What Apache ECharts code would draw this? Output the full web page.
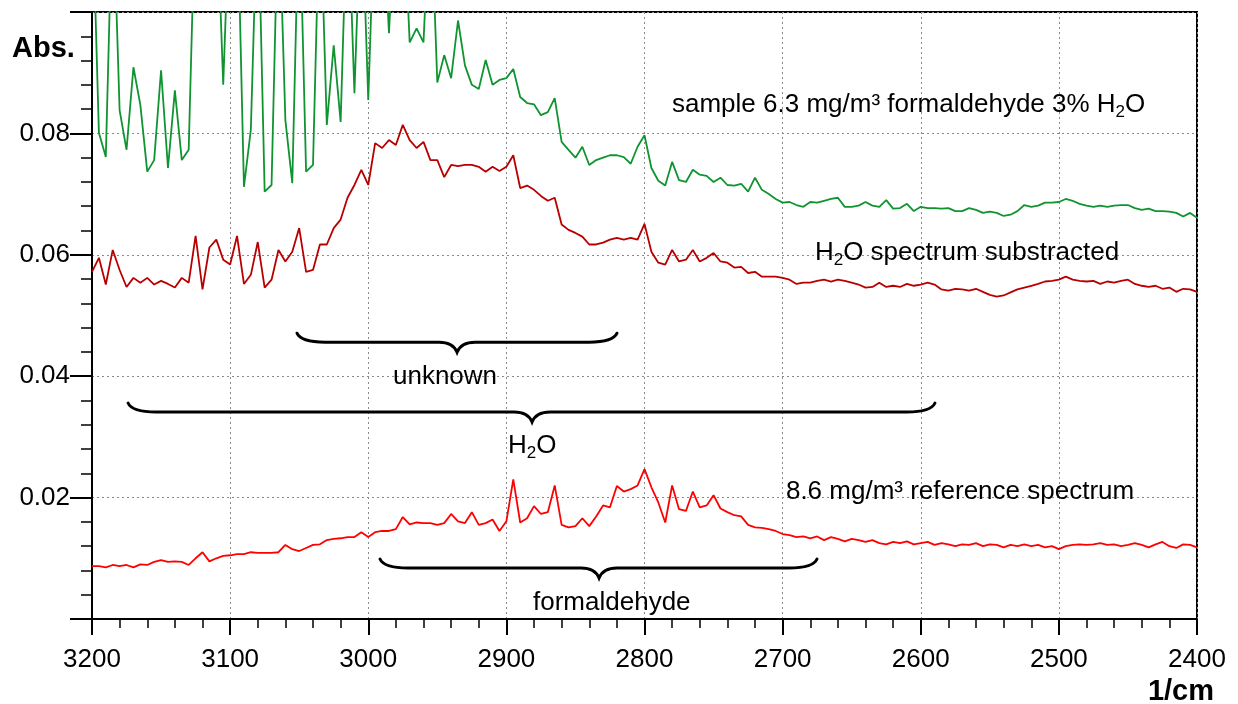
<!DOCTYPE html>
<html><head><meta charset="utf-8">
<script src="https://cdn.jsdelivr.net/npm/echarts@6/dist/echarts.min.js"></script>
<style>html,body{margin:0;padding:0;background:#fff}#c{width:1238px;height:704px}</style>
</head><body><div id="c"></div>
<script>
// wavenumbers (1/cm)
const wavenumbers = [
3200,3195,3190,3185,3180,3175,3170,3165,3160,3155,
3150,3145,3140,3135,3130,3125,3120,3115,3110,3105,
3100,3095,3090,3085,3080,3075,3070,3065,3060,3055,
3050,3045,3040,3035,3030,3025,3020,3015,3010,3005,
3000,2995,2990,2985,2980,2975,2970,2965,2960,2955,
2950,2945,2940,2935,2930,2925,2920,2915,2910,2905,
2900,2895,2890,2885,2880,2875,2870,2865,2860,2855,
2850,2845,2840,2835,2830,2825,2820,2815,2810,2805,
2800,2795,2790,2785,2780,2775,2770,2765,2760,2755,
2750,2745,2740,2735,2730,2725,2720,2715,2710,2705,
2700,2695,2690,2685,2680,2675,2670,2665,2660,2655,
2650,2645,2640,2635,2630,2625,2620,2615,2610,2605,
2600,2595,2590,2585,2580,2575,2570,2565,2560,2555,
2550,2545,2540,2535,2530,2525,2520,2515,2510,2505,
2500,2495,2490,2485,2480,2475,2470,2465,2460,2455,
2450,2445,2440,2435,2430,2425,2420,2415,2410,2405,
2400];

// sample 6.3 mg/m3 formaldehyde 3% H2O (green); values above 0.1 run off the top
const sampleAbs = [
0.12,0.0801,0.0761,0.12,0.0838,0.0773,0.0909,0.0847,0.0737,0.0756,
0.0904,0.0743,0.0871,0.0756,0.0773,0.12,0.12,0.12,0.12,0.0880,
0.12,0.12,0.0712,0.0806,0.12,0.0704,0.0715,0.12,0.0822,0.0718,
0.12,0.0737,0.0748,0.12,0.0814,0.0945,0.0819,0.12,0.0866,0.12,
0.0855,0.12,0.12,0.0965,0.12,0.12,0.0950,0.0973,0.0950,0.12,
0.0884,0.0929,0.0891,0.0986,0.0912,0.0880,0.0873,0.0921,0.0880,0.0888,
0.0891,0.0906,0.0860,0.0850,0.0848,0.0830,0.0835,0.0858,0.0786,0.0773,
0.0760,0.0778,0.0748,0.0756,0.0760,0.0764,0.0764,0.0761,0.0750,0.0778,
0.0797,0.0743,0.0722,0.0714,0.0753,0.0723,0.0720,0.0740,0.0732,0.0730,
0.0720,0.0727,0.0715,0.0714,0.0717,0.0704,0.0727,0.0707,0.0700,0.0692,
0.0686,0.0687,0.0682,0.0679,0.0687,0.0686,0.0689,0.0692,0.0694,0.0679,
0.0679,0.0681,0.0687,0.0681,0.0679,0.0690,0.0676,0.0677,0.0684,0.0672,
0.0679,0.0677,0.0677,0.0676,0.0677,0.0672,0.0672,0.0677,0.0674,0.0669,
0.0671,0.0669,0.0664,0.0666,0.0672,0.0682,0.0679,0.0681,0.0686,0.0686,
0.0687,0.0692,0.0689,0.0684,0.0681,0.0679,0.0681,0.0679,0.0681,0.0682,
0.0682,0.0677,0.0674,0.0676,0.0672,0.0672,0.0671,0.0669,0.0663,0.0669,
0.0661];

// H2O spectrum substracted (dark red)
const subtractedAbs = [
0.0572,0.0595,0.0551,0.0608,0.0575,0.0547,0.0562,0.0554,0.0562,0.0551,
0.0557,0.0552,0.0546,0.0562,0.0554,0.0631,0.0543,0.0612,0.0625,0.0592,
0.0584,0.0631,0.0552,0.0567,0.0621,0.0546,0.0559,0.0608,0.0589,0.0605,
0.0644,0.0572,0.0575,0.0617,0.0617,0.0644,0.0658,0.0694,0.0715,0.0740,
0.0715,0.0784,0.0776,0.0789,0.0781,0.0814,0.0789,0.0776,0.0786,0.0756,
0.0756,0.0728,0.0748,0.0746,0.0748,0.0748,0.0745,0.0737,0.0745,0.0738,
0.0745,0.0764,0.0710,0.0714,0.0707,0.0697,0.0689,0.0694,0.0650,0.0641,
0.0636,0.0630,0.0617,0.0617,0.0620,0.0625,0.0628,0.0625,0.0628,0.0625,
0.0651,0.0605,0.0587,0.0584,0.0608,0.0589,0.0592,0.0608,0.0589,0.0595,
0.0603,0.0589,0.0587,0.0579,0.0580,0.0570,0.0572,0.0564,0.0564,0.0564,
0.0562,0.0559,0.0552,0.0554,0.0554,0.0557,0.0559,0.0556,0.0559,0.0557,
0.0554,0.0551,0.0546,0.0547,0.0554,0.0547,0.0549,0.0547,0.0552,0.0549,
0.0551,0.0554,0.0551,0.0543,0.0541,0.0544,0.0543,0.0541,0.0544,0.0539,
0.0534,0.0531,0.0533,0.0538,0.0543,0.0546,0.0549,0.0552,0.0556,0.0557,
0.0559,0.0564,0.0559,0.0557,0.0556,0.0557,0.0552,0.0556,0.0554,0.0557,
0.0559,0.0552,0.0549,0.0547,0.0549,0.0544,0.0546,0.0539,0.0544,0.0543,
0.0539];

// 8.6 mg/m3 reference spectrum (red)
const referenceAbs = [
0.0087,0.0087,0.0085,0.0089,0.0087,0.0089,0.0085,0.0090,0.0089,0.0094,
0.0097,0.0094,0.0095,0.0094,0.0089,0.0100,0.0110,0.0095,0.0100,0.0104,
0.0105,0.0107,0.0107,0.0110,0.0109,0.0109,0.0109,0.0110,0.0122,0.0115,
0.0112,0.0117,0.0122,0.0123,0.0130,0.0132,0.0133,0.0135,0.0135,0.0143,
0.0135,0.0143,0.0145,0.0145,0.0148,0.0168,0.0156,0.0159,0.0158,0.0158,
0.0155,0.0158,0.0173,0.0161,0.0158,0.0176,0.0155,0.0158,0.0164,0.0145,
0.0161,0.0230,0.0159,0.0166,0.0186,0.0173,0.0176,0.0220,0.0155,0.0151,
0.0153,0.0166,0.0153,0.0169,0.0187,0.0184,0.0219,0.0210,0.0214,0.0220,
0.0247,0.0217,0.0192,0.0159,0.0220,0.0181,0.0178,0.0210,0.0184,0.0187,
0.0204,0.0182,0.0176,0.0171,0.0169,0.0155,0.0151,0.0150,0.0148,0.0145,
0.0140,0.0138,0.0135,0.0136,0.0133,0.0136,0.0130,0.0135,0.0132,0.0128,
0.0132,0.0130,0.0127,0.0130,0.0125,0.0123,0.0127,0.0125,0.0128,0.0123,
0.0125,0.0127,0.0122,0.0125,0.0123,0.0120,0.0123,0.0122,0.0125,0.0120,
0.0123,0.0122,0.0118,0.0122,0.0120,0.0123,0.0120,0.0122,0.0118,0.0120,
0.0115,0.0120,0.0122,0.0123,0.0122,0.0123,0.0125,0.0122,0.0123,0.0120,
0.0122,0.0125,0.0122,0.0118,0.0123,0.0127,0.0120,0.0117,0.0123,0.0122,
0.0118];

const xTickLabels = ['3200','3100','3000','2900','2800','2700','2600','2500','2400'];
const yTickLabels = ['0.02','0.04','0.06','0.08'];

// annotation braces: [from, to, tip] wavenumbers and arm level (Abs.)
const braceFrom  = [3051.6, 3173.9, 2991.5];
const braceTo    = [2819.9, 2589.7, 2675.1];
const braceTip   = [2935.7, 2881.4, 2832.9];
const braceLevel = [0.0456, 0.0341, 0.0084];

// annotation texts with anchor (left edge wavenumber, Abs.)
const noteTexts = ['sample 6.3 mg/m³ formaldehyde 3% H{sub|2}O', 'H{sub|2}O spectrum substracted', 'unknown',
                   'H{sub|2}O', '8.6 mg/m³ reference spectrum', 'formaldehyde'];
const noteW = [2780.1, 2676.6, 2982.1, 2898.8, 2697.6, 2880.7];
const noteA = [0.0847, 0.0604, 0.0399, 0.0286, 0.0210, 0.0027];

const FONT = 'Liberation Sans, Arial, Helvetica, sans-serif';
const pairs = arr => wavenumbers.map((w, i) => [w, arr[i]]);

function bracePath(x1, x2, xc, y) {
  const h1 = 9, h2 = 10, r1 = 28, r2 = 18;
  return 'M' + x1 + ',' + (y - h1) +
    ' Q' + (x1 + 4) + ',' + y + ' ' + (x1 + r1) + ',' + y +
    ' L' + (xc - r2) + ',' + y +
    ' Q' + (xc - 4) + ',' + y + ' ' + xc + ',' + (y + h2) +
    ' Q' + (xc + 4) + ',' + y + ' ' + (xc + r2) + ',' + y +
    ' L' + (x2 - r1) + ',' + y +
    ' Q' + (x2 - 4) + ',' + y + ' ' + x2 + ',' + (y - h1);
}

const richSub = {sub: {fontSize: 17, fontFamily: FONT, lineHeight: 32, verticalAlign: 'bottom', color: '#000'}};

const chart = echarts.init(document.getElementById('c'), null, {renderer: 'canvas'});
const gridLine = {show: true, lineStyle: {color: '#8a8a8a', type: [2, 3], width: 1}};

chart.setOption({
  animation: false,
  backgroundColor: '#fff',
  grid: {left: 92, right: 41, top: 12, bottom: 85, show: true, borderColor: '#000', borderWidth: 2},
  xAxis: {
    type: 'value', min: 2400, max: 3200, interval: 100, inverse: true,
    axisLine: {show: true, onZero: false, lineStyle: {color: '#000', width: 2}},
    axisTick: {show: true, inside: false, length: 16, lineStyle: {color: '#000', width: 2}},
    minorTick: {show: true, splitNumber: 5, length: 9, lineStyle: {color: '#000', width: 1.5}},
    splitLine: gridLine,
    axisLabel: {
      color: '#000', fontSize: 26, fontFamily: FONT, margin: 28,
      formatter: v => { const s = String(Math.round(v)); return xTickLabels.includes(s) ? s : ''; }
    }
  },
  yAxis: {
    type: 'value', min: 0, max: 0.1, interval: 0.02,
    axisLine: {show: true, lineStyle: {color: '#000', width: 2}},
    axisTick: {show: true, inside: false, length: 22, lineStyle: {color: '#000', width: 2}},
    minorTick: {show: true, splitNumber: 5, length: 11, lineStyle: {color: '#000', width: 1.5}},
    splitLine: gridLine,
    axisLabel: {
      color: '#000', fontSize: 26, fontFamily: FONT, margin: 22,
      formatter: v => { const s = v.toFixed(2); return yTickLabels.includes(s) ? s : ''; }
    }
  },
  series: [
    {type: 'line', name: 'sample', data: pairs(sampleAbs), showSymbol: false, symbol: 'none', clip: true,
     lineStyle: {color: '#0f9431', width: 1.8}, z: 3},
    {type: 'line', name: 'subtracted', data: pairs(subtractedAbs), showSymbol: false, symbol: 'none', clip: true,
     lineStyle: {color: '#b80000', width: 1.8}, z: 4},
    {type: 'line', name: 'reference', data: pairs(referenceAbs), showSymbol: false, symbol: 'none', clip: true,
     lineStyle: {color: '#ff0000', width: 1.8}, z: 5},
    {type: 'custom', name: 'braces', z: 10, clip: false,
     data: braceFrom.map((f, i) => [f, braceLevel[i], braceTo[i], braceTip[i]]),
     renderItem: (params, api) => {
       const p1 = api.coord([api.value(0), api.value(1)]);
       const p2 = api.coord([api.value(2), api.value(1)]);
       const pc = api.coord([api.value(3), api.value(1)]);
       return {type: 'path', shape: {pathData: bracePath(p1[0], p2[0], pc[0], p1[1])},
               style: {stroke: '#000', lineWidth: 3, fill: 'none', lineCap: 'round'}};
     }},
    {type: 'custom', name: 'notes', z: 11, clip: false,
     data: noteW.map((w, i) => [w, noteA[i], i]),
     renderItem: (params, api) => {
       const p = api.coord([api.value(0), api.value(1)]);
       return {type: 'text', x: p[0], y: p[1],
               style: {text: noteTexts[params.dataIndex], fill: '#000', fontSize: 26, fontFamily: FONT,
                       lineHeight: 32, align: 'left', verticalAlign: 'middle', rich: richSub}};
     }}
  ],
  graphic: [
    {type: 'text', x: 12, y: 49, z: 10,
     style: {text: 'Abs.', fill: '#000', fontSize: 29, fontWeight: 'bold', fontFamily: FONT,
             align: 'left', verticalAlign: 'middle'}},
    {type: 'text', x: 1214, y: 692, z: 10,
     style: {text: '1/cm', fill: '#000', fontSize: 29, fontWeight: 'bold', fontFamily: FONT,
             align: 'right', verticalAlign: 'middle'}}
  ]
});
</script>
</body></html>
